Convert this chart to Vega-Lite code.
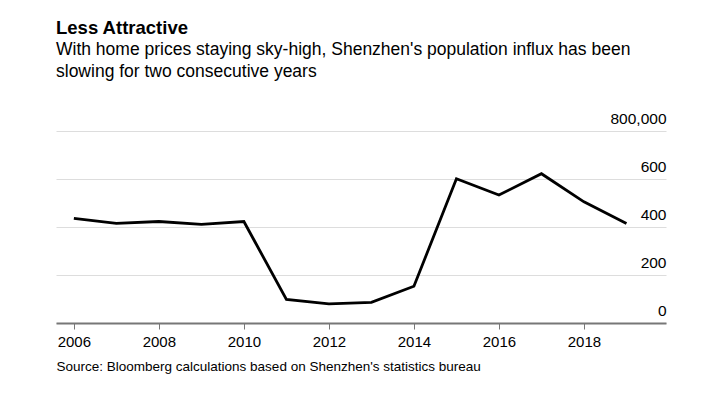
{
  "$schema": "https://vega.github.io/schema/vega-lite/v6.json",
  "autosize": "none",
  "width": 610,
  "height": 192,
  "padding": {"left": 56, "top": 131, "right": 58, "bottom": 74},
  "background": "white",
  "config": {
    "view": {"stroke": null},
    "font": "Liberation Sans"
  },
  "title": {
    "text": "Less Attractive",
    "subtitle": ["With home prices staying sky-high, Shenzhen's population influx has been", "slowing for two consecutive years"],
    "anchor": "start",
    "frame": "group",
    "font": "Liberation Sans",
    "fontSize": 18.5,
    "fontWeight": "bold",
    "color": "#000000",
    "subtitleFont": "Liberation Sans",
    "subtitleFontSize": 17.5,
    "subtitleColor": "#000000",
    "subtitleLineHeight": 22,
    "subtitlePadding": 3,
    "offset": 31
  },
  "data": {
    "values": [
      {"year": 2006, "value": 436000},
      {"year": 2007, "value": 415000},
      {"year": 2008, "value": 423000},
      {"year": 2009, "value": 411000},
      {"year": 2010, "value": 423000},
      {"year": 2011, "value": 98000},
      {"year": 2012, "value": 80000},
      {"year": 2013, "value": 86000},
      {"year": 2014, "value": 153000},
      {"year": 2015, "value": 601000},
      {"year": 2016, "value": 533000},
      {"year": 2017, "value": 622000},
      {"year": 2018, "value": 505000},
      {"year": 2019, "value": 415000}
    ]
  },
  "mark": {"type": "line", "color": "#000000", "strokeWidth": 2.8, "strokeJoin": "miter"},
  "encoding": {
    "x": {
      "field": "year",
      "type": "quantitative",
      "scale": {"domain": [2005.58, 2019.93], "nice": false, "zero": false},
      "axis": {
        "values": [2006, 2008, 2010, 2012, 2014, 2016, 2018],
        "format": "d",
        "grid": false,
        "domainColor": "#777777",
        "domainWidth": 2,
        "tickColor": "#777777",
        "tickWidth": 1,
        "tickSize": 6,
        "labelFontSize": 15,
        "labelColor": "#000000",
        "labelPadding": 5,
        "title": "Source: Bloomberg calculations based on Shenzhen's statistics bureau",
        "titleAnchor": "start",
        "titleAlign": "left",
        "titleFontSize": 13.5,
        "titleFontWeight": "normal",
        "titleColor": "#000000",
        "titlePadding": 10
      }
    },
    "y": {
      "field": "value",
      "type": "quantitative",
      "scale": {"domain": [0, 800000], "nice": false},
      "axis": {
        "orient": "right",
        "values": [0, 200000, 400000, 600000, 800000],
        "labelExpr": "datum.value == 800000 ? '800,000' : format(datum.value / 1000, 'd')",
        "domain": false,
        "ticks": false,
        "grid": true,
        "gridColor": "#dddddd",
        "gridWidth": 1,
        "labelAlign": "right",
        "labelBaseline": "alphabetic",
        "labelOffset": -8,
        "labelPadding": 0,
        "labelFontSize": 15.5,
        "labelColor": "#000000",
        "title": null
      }
    }
  }
}
